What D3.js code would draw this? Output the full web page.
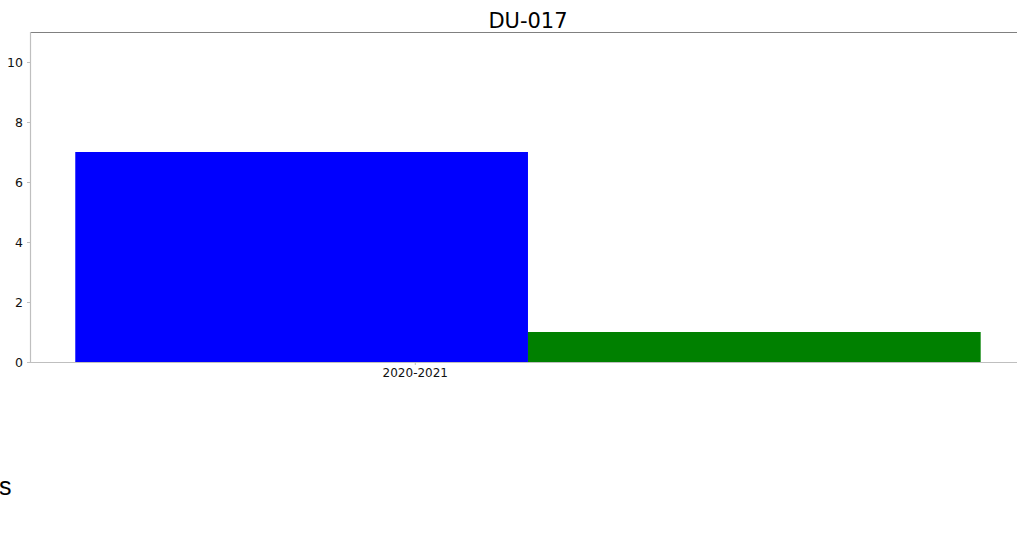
<!DOCTYPE html>
<html><head><meta charset="utf-8">
<script src="https://cdn.jsdelivr.net/npm/d3@7"></script>
<style>body{margin:0;background:#fff;overflow:hidden}svg{display:block}</style>
</head><body>
<svg id="c" width="1017" height="541"></svg>
<script>
const categories = ["2020-2021"];
const seriesNames = ["A", "B"];
const seriesValues = [7, 1];
const seriesColors = ["#0000ff", "#008000"];
const barCenters = [0, 1];
const yTicks = [0, 2, 4, 6, 8, 10];
const xTickPos = [0.25];
const title = "DU-017";

const svg = d3.select("#c");
const L = 30, T = 32, B = 362, R = 1035;
const x = d3.scaleLinear().domain([-0.6, 1.62]).range([L, R]);
const y = d3.scaleLinear().domain([0, 11]).range([B, T]);
const font = "DejaVu Sans, sans-serif";

svg.selectAll("rect.bar").data(seriesValues).enter().append("rect")
  .attr("x", (d, i) => x(barCenters[i] - 0.5))
  .attr("width", (d, i) => x(barCenters[i] + 0.5) - x(barCenters[i] - 0.5))
  .attr("y", d => y(d))
  .attr("height", d => y(0) - y(d))
  .attr("fill", (d, i) => seriesColors[i]);

// spines
svg.append("line").attr("x1", L).attr("x2", R).attr("y1", T + 0.5).attr("y2", T + 0.5).attr("stroke", "#808080").attr("stroke-width", 1);
svg.append("line").attr("x1", L).attr("x2", R).attr("y1", B + 0.5).attr("y2", B + 0.5).attr("stroke", "#bfbfbf").attr("stroke-width", 1.2);
svg.append("line").attr("x1", L + 0.5).attr("x2", L + 0.5).attr("y1", T).attr("y2", B + 1).attr("stroke", "#bfbfbf").attr("stroke-width", 1.2);

// y axis
const yAxis = d3.axisLeft(y).tickValues(yTicks).tickSize(3).tickPadding(4);
const gy = svg.append("g").attr("transform", `translate(${L},0)`).call(yAxis);
gy.select(".domain").remove();
gy.selectAll("line").attr("stroke", "#bfbfbf");
gy.selectAll("text").attr("font-family", font).attr("font-size", 12.5).attr("fill", "#111");

// x axis
const xAxis = d3.axisBottom(x).tickValues(xTickPos).tickFormat((d, i) => categories[i]).tickSize(3).tickPadding(3);
const gx = svg.append("g").attr("transform", `translate(0,${B})`).call(xAxis);
gx.select(".domain").remove();
gx.selectAll("line").attr("stroke", "#bfbfbf");
gx.selectAll("text").attr("font-family", font).attr("font-size", 12).attr("fill", "#111");

svg.append("text").attr("x", 528).attr("y", 28).attr("text-anchor", "middle")
  .attr("font-family", font).attr("font-size", 21).attr("fill", "#000").text(title);

svg.append("text").attr("x", -1).attr("y", 495).attr("text-anchor", "start")
  .attr("font-family", "Liberation Sans, Arial, sans-serif").attr("font-size", 25).attr("fill", "#000").text("s");
</script>
</body></html>
